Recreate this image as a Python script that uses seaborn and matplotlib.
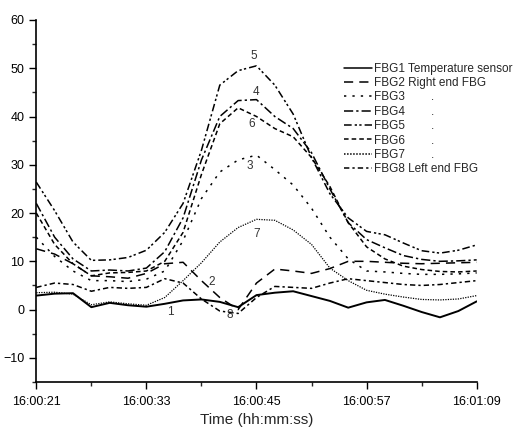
import numpy as np
import pandas as pd
import matplotlib
matplotlib.use("Agg")
import matplotlib.pyplot as plt
import seaborn as sns

# time in seconds after 16:00:21
t = [0, 2, 4, 6, 8, 10, 12, 14, 16, 18, 20, 22, 24, 26, 28, 30, 32, 34, 36, 38, 40, 42, 44, 46, 48]

fbg1 = [2.9, 3.3, 3.4, 0.5, 1.4, 0.9, 0.6, 1.2, 1.9, 2.1, 1.6, 0.5, 3.0, 3.5, 3.8, 2.8, 1.8, 0.4, 1.5, 2.0, 0.8, -0.5, -1.6, -0.3, 1.7]
fbg2 = [12.6, 11.5, 9.5, 7.0, 6.8, 6.5, 7.5, 9.5, 9.8, 6.0, 2.5, 0.0, 5.5, 8.4, 8.0, 7.5, 8.5, 10.0, 10.0, 9.8, 9.6, 9.5, 9.6, 9.7, 9.8]
fbg3 = [15.0, 11.0, 8.0, 6.0, 6.0, 5.8, 6.3, 8.0, 14.3, 23.0, 28.5, 31.0, 32.0, 29.0, 25.8, 21.0, 15.0, 10.5, 8.0, 7.8, 7.5, 7.3, 7.3, 7.4, 7.6]
fbg4 = [22.0, 15.0, 10.5, 8.0, 8.2, 8.0, 8.6, 12.0, 19.0, 31.0, 40.0, 43.3, 43.5, 40.0, 37.5, 32.5, 25.0, 18.0, 14.5, 12.8, 11.2, 10.4, 10.0, 10.1, 10.3]
fbg5 = [26.4, 20.5, 14.0, 10.2, 10.3, 10.8, 12.3, 16.0, 22.0, 33.0, 46.5, 49.5, 50.5, 46.5, 40.5, 31.5, 24.0, 19.0, 16.2, 15.5, 13.8, 12.2, 11.7, 12.3, 13.4]
fbg6 = [20.0, 13.5, 9.5, 7.0, 7.6, 7.7, 8.0, 10.0, 16.0, 28.0, 38.5, 41.8, 40.0, 37.5, 35.8, 31.5, 25.5, 18.0, 13.0, 10.5, 9.0, 8.3, 7.9, 7.8, 8.0]
fbg7 = [3.5, 3.6, 3.2, 1.0, 1.6, 1.2, 0.9, 2.5, 6.0, 9.7, 14.0, 17.0, 18.7, 18.5, 16.5, 13.5, 8.6, 6.0, 4.0, 3.2, 2.6, 2.1, 2.0, 2.2, 2.9]
fbg8 = [4.6, 5.5, 5.2, 3.8, 4.6, 4.4, 4.6, 6.4, 5.5, 2.2, -0.3, -0.8, 2.5, 4.8, 4.6, 4.4, 5.5, 6.4, 6.0, 5.6, 5.2, 5.0, 5.2, 5.6, 6.0]

labels = ["FBG1 Temperature sensor", "FBG2 Right end FBG", "FBG3        .", "FBG4        .",
          "FBG5        .", "FBG6        .", "FBG7        .", "FBG8 Left end FBG"]
series = [fbg1, fbg2, fbg3, fbg4, fbg5, fbg6, fbg7, fbg8]

x_ticks = [0, 12, 24, 36, 48]
x_ticklabels = ["16:00:21", "16:00:33", "16:00:45", "16:00:57", "16:01:09"]

# curve number annotations: (text, t, value)
ann_text = ["5", "4", "6", "3", "7", "2", "1", "8"]
ann_t = [23.7, 23.9, 23.5, 23.3, 24.0, 19.1, 14.6, 21.1]
ann_v = [52.6, 45.0, 38.4, 29.8, 15.7, 5.7, -0.6, -1.2]

rows = []
for lab, vals in zip(labels, series):
    for ti, v in zip(t, vals):
        rows.append((ti, v, lab))
df = pd.DataFrame(rows, columns=["t", "v", "series"])

sns.set_style("ticks")
plt.rcParams['font.family'] = ['Liberation Sans', 'DejaVu Sans']

dashes = {
    labels[0]: "",
    labels[1]: (6, 4),
    labels[2]: (1.5, 4),
    labels[3]: (6, 2, 1.5, 2),
    labels[4]: (5, 2, 1.5, 1.5, 1.5, 2),
    labels[5]: (3, 2),
    labels[6]: (1, 1),
    labels[7]: (3.5, 2, 1.5, 2),
}

fig = plt.figure(figsize=(5.17, 4.34), dpi=100)
ax = fig.add_axes([0.0702, 0.1198, 0.8518, 0.8342])

sns.lineplot(data=df, x="t", y="v", style="series", dashes=dashes, color="black",
             linewidth=1.1, ax=ax, style_order=labels)
ax.lines[6].set_linewidth(0.9)
ax.lines[0].set_linewidth(1.4)

ax.set_xlim(0, 48)
ax.set_ylim(-15, 60)
ax.set_xticks(x_ticks)
ax.set_xticklabels(x_ticklabels)
ax.set_xticks([6, 18, 30, 42], minor=True)
ax.set_yticks([-10, 0, 10, 20, 30, 40, 50, 60])
ax.set_yticks([-15, -5, 5, 15, 25, 35, 45, 55], minor=True)
ax.tick_params(axis="both", which="major", direction="out", length=5, width=1, labelsize=9, colors="black")
ax.tick_params(axis="x", which="major", pad=5)
ax.tick_params(axis="both", which="minor", direction="out", length=3, width=1)
ax.set_xlabel("Time (hh:mm:ss)", fontsize=11, labelpad=4)
ax.set_ylabel("")
for s in ["top", "right"]:
    ax.spines[s].set_visible(False)
for s in ["left", "bottom"]:
    ax.spines[s].set_linewidth(1.2)
    ax.spines[s].set_color("black")

for txt, tx, ty in zip(ann_text, ann_t, ann_v):
    ax.text(tx, ty, txt, fontsize=8.5, ha="center", va="center", color="#333333")

leg = ax.legend(loc="upper left", bbox_to_anchor=(0.687, 0.895), frameon=False,
                fontsize=8.5, handlelength=2.4, handletextpad=0.2, labelspacing=0.2,
                borderaxespad=0)
for h in leg.get_lines():
    h.set_color("black")

fig.savefig("out.png", dpi=100)
